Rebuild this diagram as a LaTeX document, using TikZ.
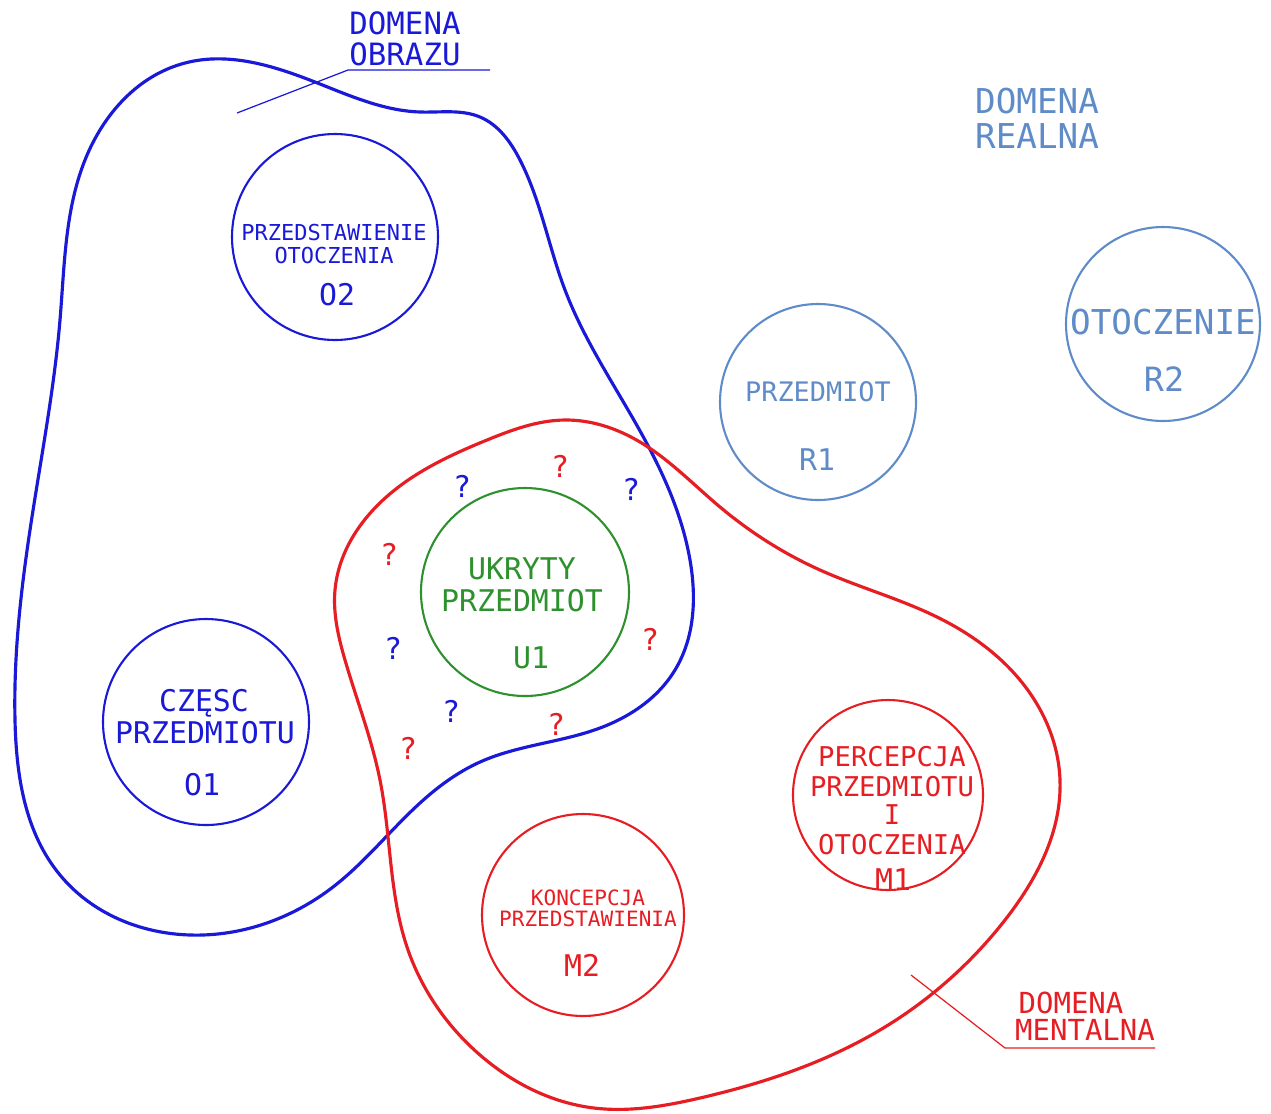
\documentclass[tikz,border=0pt]{standalone}
\usepackage{fontspec}
\setmainfont{DejaVu Sans Mono}
\usetikzlibrary{shapes.geometric,hobby}
\definecolor{dobraz}{RGB}{25,25,215}
\definecolor{dreal}{RGB}{95,140,200}
\definecolor{dment}{RGB}{230,30,35}
\definecolor{dgreen}{RGB}{45,145,45}
\newcommand{\fsz}[1]{\fontsize{#1}{#1}\selectfont}
\tikzset{
  ring/.style={circle,draw,line width=1.2pt,inner sep=0pt},
  txt/.style={inner sep=0pt,anchor=center},
  domline/.style={line width=1.8pt},
  leader/.style={line width=0.7pt},
  qm/.style={txt,font=\fsz{17}},
}
\begin{document}
\begin{tikzpicture}[x=0.02cm,y=-0.02cm]
\useasboundingbox (0,0) rectangle (1271,1113);

% blue domain
\draw[dobraz,domline,use Hobby shortcut,closed=true]
(185,63) .. (320,84) .. (420,112) .. (480,117) .. (520,160) .. (565,290)
.. (645,440) .. (690,560) .. (675,670) .. (600,728) .. (480,762) .. (420,803)
.. (333,887) .. (190,935) .. (60,875) .. (15,720) .. (30,530) .. (60,320) .. (85,160);

% red domain
\draw[dment,domline,use Hobby shortcut,closed=true]
(565,420) .. (640,442) .. (720,507) .. (820,570) .. (937,617) .. (1020,680)
.. (1060,780) .. (1005,920) .. (880,1030) .. (700,1098) .. (594,1108)
.. (480,1055) .. (407,947) .. (380,780) .. (345,660) .. (335,590) .. (383,500) .. (487,440);

% circles
\node[ring,dobraz,minimum size=206*0.02cm] (O2) at (335,237) {};
\node[ring,dobraz,minimum size=206*0.02cm] (O1) at (206,722) {};
\node[ring,dgreen,minimum size=208*0.02cm] (U1) at (525,592) {};
\node[ring,dreal,minimum size=196*0.02cm] (R1) at (818,402) {};
\node[ring,dreal,minimum size=194*0.02cm] (R2) at (1163,324) {};
\node[ring,dment,minimum size=190*0.02cm] (M1) at (888,795) {};
\node[ring,dment,minimum size=202*0.02cm] (M2) at (583,915) {};

% texts in circles
\node[txt,dobraz,font=\fsz{12.5}] (O2a) at (334,232) {PRZEDSTAWIENIE};
\node[txt,dobraz,font=\fsz{12.5}] (O2b) at (334,255) {OTOCZENIA};
\node[txt,dobraz,font=\fsz{17}] (O2c) at (337,295) {O2};

\node[txt,dobraz,font=\fsz{17}] (O1a) at (204,703) {CZĘSC};
\node[txt,dobraz,font=\fsz{17}] (O1b) at (205,733) {PRZEDMIOTU};
\node[txt,dobraz,font=\fsz{17}] (O1c) at (202,785) {O1};

\node[txt,dgreen,font=\fsz{17}] (U1a) at (522,569) {UKRYTY};
\node[txt,dgreen,font=\fsz{17}] (U1b) at (522,601) {PRZEDMIOT};
\node[txt,dgreen,font=\fsz{17}] (U1c) at (531,658) {U1};

\node[txt,dreal,font=\fsz{15.3}] (R1a) at (818,392) {PRZEDMIOT};
\node[txt,dreal,font=\fsz{17}] (R1b) at (817,460) {R1};

\node[txt,dreal,font=\fsz{19.5}] (R2a) at (1163,322) {OTOCZENIE};
\node[txt,dreal,font=\fsz{19}] (R2b) at (1164,379) {R2};

\node[txt,dment,font=\fsz{15.5}] (M1a) at (892,757) {PERCEPCJA};
\node[txt,dment,font=\fsz{15.5}] (M1b) at (892,787) {PRZEDMIOTU};
\node[txt,dment,font=\fsz{15.5}] (M1c) at (892,815) {I};
\node[txt,dment,font=\fsz{15.5}] (M1d) at (892,845) {OTOCZENIA};
\node[txt,dment,font=\fsz{17}] (M1e) at (893,880) {M1};

\node[txt,dment,font=\fsz{12}] (M2a) at (588,898) {KONCEPCJA};
\node[txt,dment,font=\fsz{12}] (M2b) at (588,919) {PRZEDSTAWIENIA};
\node[txt,dment,font=\fsz{17}] (M2c) at (582,965) {M2};

% domain labels
\node[txt,dobraz,font=\fsz{17.5}] (DOa) at (405,23) {DOMENA};
\node[txt,dobraz,font=\fsz{17.5}] (DOb) at (405,54) {OBRAZU};
\coordinate (DOu1) at (348,70);
\coordinate (DOu2) at (490,70);
\coordinate (DOt) at (237,113);
\draw[dobraz,leader] (DOt) -- (DOu1) -- (DOu2);

\node[txt,dreal,font=\fsz{19.5}] (DRa) at (1037,101) {DOMENA};
\node[txt,dreal,font=\fsz{19.5}] (DRb) at (1037,136) {REALNA};

\node[txt,dment,font=\fsz{16.5}] (DMa) at (1071,1003) {DOMENA};
\node[txt,dment,font=\fsz{16.5}] (DMb) at (1085,1030) {MENTALNA};
\coordinate (DMu1) at (1005,1048);
\coordinate (DMu2) at (1155,1048);
\coordinate (DMt) at (911,975);
\draw[dment,leader] (DMt) -- (DMu1) -- (DMu2);

% question marks
\node[qm,dobraz] (q1) at (462,486) {?};
\node[qm,dobraz] (q2) at (631,489) {?};
\node[qm,dobraz] (q3) at (393,648) {?};
\node[qm,dobraz] (q4) at (451,711) {?};
\node[qm,dment] (q5) at (560,466) {?};
\node[qm,dment] (q6) at (389,554) {?};
\node[qm,dment] (q7) at (650,639) {?};
\node[qm,dment] (q8) at (556,724) {?};
\node[qm,dment] (q9) at (408,748) {?};
\end{tikzpicture}
\end{document}
